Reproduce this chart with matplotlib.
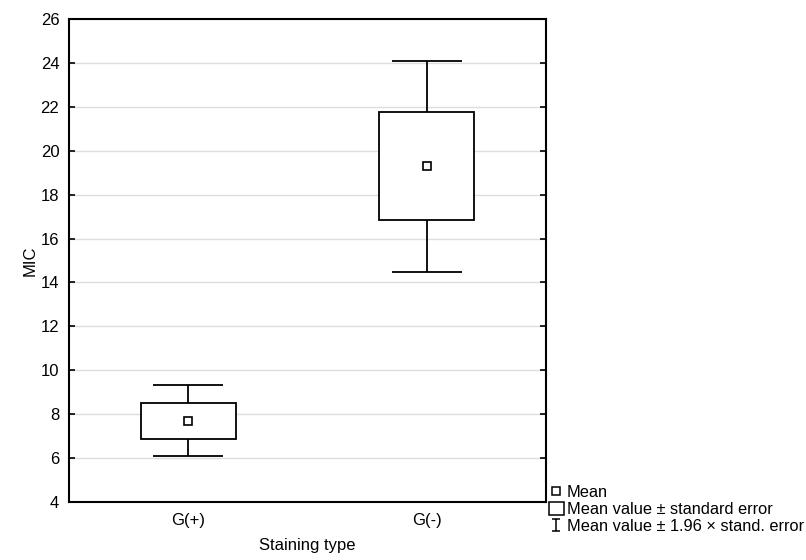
import matplotlib
matplotlib.use('Agg')
import matplotlib.pyplot as plt
from matplotlib.lines import Line2D
from matplotlib.patches import Patch
from matplotlib.path import Path

plt.rcParams['font.family'] = ['Liberation Sans', 'DejaVu Sans']

groups = ['G(+)', 'G(-)']
means = [7.7, 19.3]
se = [0.83, 2.45]
yticks = [4, 6, 8, 10, 12, 14, 16, 18, 20, 22, 24, 26]

fig = plt.figure(figsize=(8.06, 5.6), dpi=100)
ax = fig.add_axes([0.0856, 0.1036, 0.5916, 0.8625])

pos = list(range(len(groups)))
ci = [1.96 * s for s in se]

ax.errorbar(pos, means, yerr=ci, fmt='none', ecolor='black', elinewidth=1.3,
            capsize=25, capthick=1.3, zorder=2)
ax.bar(pos, [2 * s for s in se], bottom=[m - s for m, s in zip(means, se)],
       width=0.4, color='white', edgecolor='black', linewidth=1.3, zorder=3)
ax.plot(pos, means, 's', ms=5.5, mfc='white', mec='black', mew=1.2, zorder=4)

ax.set_xlim(-0.5, 1.5)
ax.set_ylim(4, 26)
ax.set_yticks(yticks)
ax.set_xticks(pos)
ax.set_xticklabels(groups)
ax.yaxis.grid(True, color='#dddddd', linewidth=1)
ax.set_axisbelow(True)
ax.tick_params(axis='y', direction='in', right=True, length=4, width=1.2,
               labelsize=12, pad=7)
ax.tick_params(axis='x', direction='in', length=0, labelsize=12, pad=8)
for sp in ax.spines.values():
    sp.set_linewidth(1.5)
ax.set_ylabel('MIC', fontsize=12, labelpad=2)
ax.set_xlabel('Staining type', fontsize=12, labelpad=7)

ibeam = Path([(-0.6, 1), (0.6, 1), (0, 1), (0, -1), (-0.6, -1), (0.6, -1)],
             [Path.MOVETO, Path.LINETO, Path.MOVETO, Path.LINETO, Path.MOVETO, Path.LINETO])
handles = [
    Line2D([], [], marker='s', ls='none', ms=5.5, mfc='white', mec='black', mew=1.1),
    Patch(facecolor='white', edgecolor='black', linewidth=1.1),
    Line2D([], [], marker=ibeam, ls='none', ms=9, color='black', mew=1.1),
]
labels = ['Mean', 'Mean value \u00b1 standard error', 'Mean value \u00b1 1.96 \u00d7 stand. error']
fig.legend(handles, labels, loc='upper left', bbox_to_anchor=(0.681, 0.134),
           frameon=False, fontsize=11.8, handlelength=0.9, handleheight=0.8,
           handletextpad=0.2, labelspacing=0.12, borderpad=0, borderaxespad=0)

fig.savefig('out.png', dpi=100)
